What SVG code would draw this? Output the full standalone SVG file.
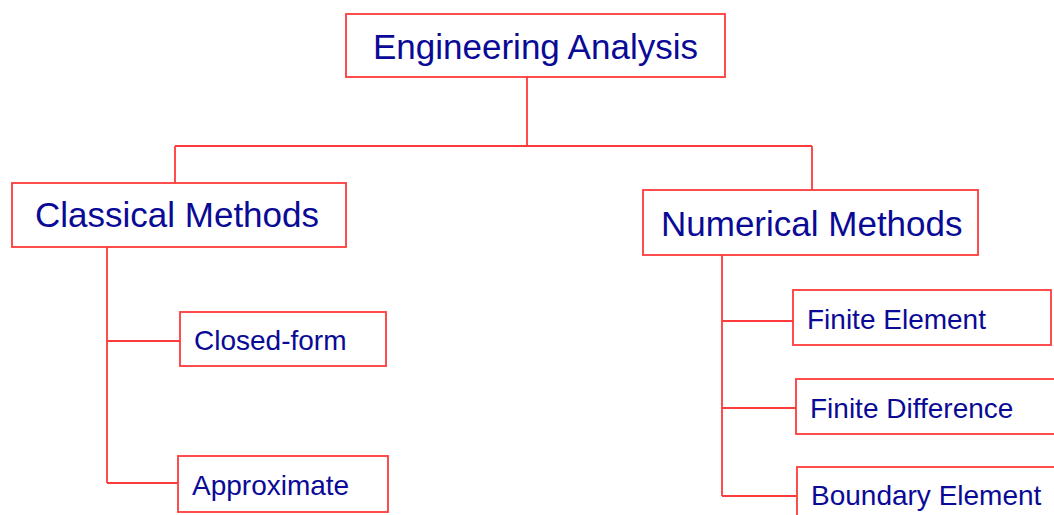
<svg xmlns="http://www.w3.org/2000/svg" width="1054" height="515" viewBox="0 0 1054 515">
<style>
.box{fill:#ffffff;stroke:#ff3a3a;stroke-width:1.8}
.con{fill:none;stroke:#ff3a3a;stroke-width:1.8}
.big{font-family:"Liberation Sans",Arial,sans-serif;font-size:35px;fill:#0a0a96}
.small{font-family:"Liberation Sans",Arial,sans-serif;font-size:28px;fill:#0a0a96}
</style>
<rect width="1054" height="515" fill="#ffffff"/>
<g id="connectors">
<path class="con" d="M527,77 V146 M175,146 H812 M175,146 V183 M812,146 V190"/>
<path class="con" d="M107,247 V483 M107,341 H180 M107,483 H178"/>
<path class="con" d="M722,255 V496 M722,321 H793 M722,408 H796 M722,496 H797"/>
</g>
<g id="engineering-analysis">
<rect class="box" x="346" y="14" width="379" height="63"/>
<text class="big" x="373" y="59">Engineering Analysis</text>
</g>
<g id="classical-methods">
<rect class="box" x="12" y="183" width="334" height="64"/>
<text class="big" x="35" y="227">Classical Methods</text>
</g>
<g id="numerical-methods">
<rect class="box" x="643" y="190" width="335" height="65"/>
<text class="big" x="661" y="236">Numerical Methods</text>
</g>
<g id="closed-form">
<rect class="box" x="180" y="312" width="206" height="54"/>
<text class="small" x="194" y="350">Closed-form</text>
</g>
<g id="approximate">
<rect class="box" x="178" y="456" width="210" height="56"/>
<text class="small" x="192" y="495">Approximate</text>
</g>
<g id="finite-element">
<rect class="box" x="793" y="290" width="258" height="55"/>
<text class="small" x="807" y="329">Finite Element</text>
</g>
<g id="finite-difference">
<rect class="box" x="796" y="379" width="270" height="55"/>
<text class="small" x="810" y="418">Finite Difference</text>
</g>
<g id="boundary-element">
<rect class="box" x="797" y="467" width="270" height="60"/>
<text class="small" x="811" y="505">Boundary Element</text>
</g>
</svg>
